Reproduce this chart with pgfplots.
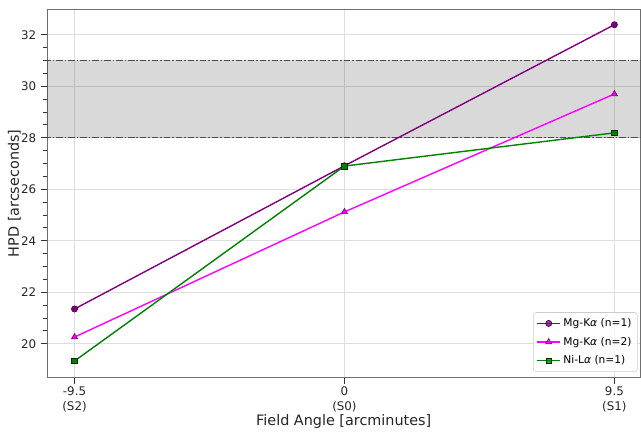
\documentclass[border=0pt]{standalone}
\usepackage{pgfplots}
\pgfplotsset{compat=1.18}
\usepackage{fontspec}
\setmainfont{DejaVu Sans}
\definecolor{mpurple}{RGB}{128,0,128}
\definecolor{mmag}{RGB}{255,0,255}
\definecolor{mgreen}{RGB}{0,128,0}
\definecolor{spine}{RGB}{110,110,110}
\begin{document}
\begin{tikzpicture}
\begin{axis}[
  scale only axis,
  width=445.5pt, height=276.75pt,
  xmin=-10.47, xmax=10.42, ymin=18.68, ymax=33.0,
  xtick={-9.5,0,9.5},
  xticklabels={{-9.5\\(S2)},{0\\(S0)},{9.5\\(S1)}},
  xticklabel style={align=center, font=\fontsize{8.9}{10.6}\selectfont, text=black!85, yshift=1pt},
  yticklabel style={font=\fontsize{8.9}{10}\selectfont, text=black!85},
  /pgf/number format/assume math mode=true,
  ytick={20,22,...,32},
  minor y tick num=3,
  grid=major,
  major grid style={black!13, line width=0.6pt},
  tick align=outside,
  tick pos=left,
  major tick length=4.5pt,
  minor tick length=3pt,
  every tick/.style={black!80, line width=0.7pt},
  axis line style={spine, line width=0.7pt},
  xlabel={Field Angle [arcminutes]},
  ylabel={HPD [arcseconds]},
  label style={font=\fontsize{10.8}{13}\selectfont, text=black!85},
  xlabel style={at={(axis description cs:0.5,-0.119)}, anchor=center},
  ylabel style={at={(axis description cs:-0.055,0.5)}, anchor=center},
  legend style={at={(0.995,0.016)}, anchor=south east,
    font=\fontsize{8}{9.5}\selectfont, draw=black!20, rounded corners=2pt,
    fill=white, fill opacity=0.8, text opacity=1,
    inner sep=2.4pt, row sep=2.4pt},
  legend cell align=left,
]
\addplot[forget plot, draw=none, fill=black, fill opacity=0.15]
  coordinates {(-11,28) (11,28) (11,31) (-11,31)} -- cycle;
\addplot[forget plot, color=black!70, line width=0.8pt, dash pattern=on 5pt off 1.5pt on 1pt off 1.5pt]
  coordinates {(-11,28) (11,28)};
\addplot[forget plot, color=black!70, line width=0.8pt, dash pattern=on 5pt off 1.5pt on 1pt off 1.5pt]
  coordinates {(-11,31) (11,31)};

\addplot[mpurple, line width=1.05pt, mark=*, mark size=2.3pt,
  mark options={fill=mpurple, draw=mpurple!60!black, line width=0.5pt}]
  coordinates {(-9.5,21.35) (0,26.91) (9.5,32.39)};
\addlegendentry{Mg-K{\itshape α} (n=1)}
\addplot[mmag, line width=1.05pt, mark=triangle*, mark size=2.6pt,
  mark options={fill=mmag, draw=mpurple, line width=0.5pt}]
  coordinates {(-9.5,20.26) (0,25.12) (9.5,29.70)};
\addlegendentry{Mg-K{\itshape α} (n=2)}
\addplot[mgreen, line width=1.05pt, mark=square*, mark size=2.1pt,
  mark options={fill=mgreen, draw=mgreen!40!black, line width=0.5pt}]
  coordinates {(-9.5,19.33) (0,26.90) (9.5,28.19)};
\addlegendentry{Ni-L{\itshape α} (n=1)}
\end{axis}
\path ([xshift=-35.25pt,yshift=-39pt]current axis.south west) rectangle ([yshift=6.75pt]current axis.north east);
\end{tikzpicture}
\end{document}
